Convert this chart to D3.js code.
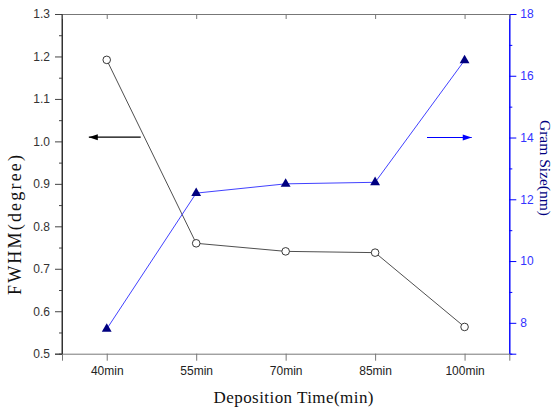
<!DOCTYPE html>
<html><head><meta charset="utf-8">
<script src="https://cdn.jsdelivr.net/npm/d3@7"></script>
<style>body{margin:0;background:#fff}svg{display:block}</style>
</head><body>
<script>
const categories = ["40min","55min","70min","85min","100min"];
const fwhm = [1.192, 0.760, 0.741, 0.738, 0.563];
const grainSize = [7.8, 12.2, 12.5, 12.55, 16.5];
const leftTicks = [0.5,0.6,0.7,0.8,0.9,1.0,1.1,1.2,1.3];
const rightTicks = [8,10,12,14,16,18];

const W=552,H=407;
const m={l:62,r:552-509.3,t:14,b:407-353.7};
const svg=d3.select("body").append("svg").attr("width",W).attr("height",H);
const x=d3.scalePoint().domain(categories).range([m.l,W-m.r]).padding(0.5);
const yL=d3.scaleLinear().domain([0.5,1.3]).range([H-m.b,m.t]);
const yR=d3.scaleLinear().domain([7,18]).range([H-m.b,m.t]);
const font="Liberation Sans, Arial, sans-serif";
const serif="Liberation Serif, Times New Roman, serif";

// minor ticks
const gL=svg.append("g").attr("transform",`translate(${m.l},0)`);
gL.call(d3.axisLeft(yL).tickValues(d3.range(0.55,1.3,0.1)).tickSize(3).tickFormat(""));
gL.append("g").call(d3.axisLeft(yL).tickValues(leftTicks).tickSize(7).tickPadding(5).tickFormat(d3.format(".1f")));
gL.selectAll("path").attr("stroke","#333");
gL.selectAll("line").attr("stroke","#444");
gL.selectAll("text").attr("font-family",font).attr("font-size",12).attr("fill","#333");

const gR=svg.append("g").attr("transform",`translate(${W-m.r},0)`);
gR.call(d3.axisRight(yR).tickValues([9,11,13,15,17]).tickSize(3).tickFormat(""));
gR.append("g").call(d3.axisRight(yR).tickValues(rightTicks).tickSize(7).tickPadding(4));
gR.selectAll("path").attr("stroke","#0000ff");
gR.selectAll("line").attr("stroke","#0000ff");
gR.selectAll("text").attr("font-family",font).attr("font-size",12).attr("fill","#3333ff");

const gB=svg.append("g").attr("transform",`translate(0,${H-m.b})`);
gB.call(d3.axisBottom(x).tickSize(7).tickPadding(6));
gB.selectAll("path").attr("stroke","#777");
gB.selectAll("line").attr("stroke","#777");
gB.selectAll("text").attr("font-family",font).attr("font-size",12).attr("fill","#222");

const gT=svg.append("g").attr("transform",`translate(0,${m.t})`);
gT.call(d3.axisTop(x).tickSize(-5).tickFormat(""));
gT.selectAll("path").attr("stroke","#777");
gT.selectAll("line").attr("stroke","#777");
svg.append("line").attr("x1",m.l).attr("x2",m.l).attr("y1",m.t).attr("y2",H-m.b).attr("stroke","#333");

// lines
svg.append("path").datum(fwhm).attr("fill","none").attr("stroke","#222").attr("stroke-width",0.8)
  .attr("d",d3.line().x((d,i)=>x(categories[i])).y(d=>yL(d)));
svg.append("path").datum(grainSize).attr("fill","none").attr("stroke","#2b2bff").attr("stroke-width",0.9)
  .attr("d",d3.line().x((d,i)=>x(categories[i])).y(d=>yR(d)));

svg.selectAll(".c").data(fwhm).join("circle").attr("cx",(d,i)=>x(categories[i])).attr("cy",d=>yL(d))
  .attr("r",3.8).attr("fill","#fff").attr("stroke","#222").attr("stroke-width",0.9);
svg.selectAll(".t").data(grainSize).join("path")
  .attr("transform",(d,i)=>`translate(${x(categories[i])},${yR(d)})`)
  .attr("d",d3.symbol(d3.symbolTriangle,42)).attr("fill","#000080");

// arrows
function arrow(x1,x2,y,color){
  svg.append("line").attr("x1",x1).attr("x2",x2).attr("y1",y).attr("y2",y).attr("stroke",color).attr("stroke-width",1.1);
  const dir=Math.sign(x2-x1);
  svg.append("path").attr("d",`M${x2},${y}L${x2-dir*9},${y-3}L${x2-dir*9},${y+3}Z`).attr("fill",color);
}
const sx=(i,f)=>x(categories[i])+f*x.step();
arrow(sx(0,0.38),sx(0,-0.2),yL(1.01),"#000");
arrow(sx(4,-0.42),sx(4,0.08),yR(14),"#0000ff");

// titles
svg.append("text").attr("x",293.5).attr("y",402.5).attr("text-anchor","middle")
  .attr("font-family",serif).attr("font-size",17).attr("fill","#111")
  .attr("textLength",160).attr("lengthAdjust","spacing").text("Deposition Time(min)");
svg.append("text").attr("transform",`translate(21,225) rotate(-90)`).attr("text-anchor","middle")
  .attr("font-family",serif).attr("font-size",18).attr("fill","#111")
  .attr("textLength",140).attr("lengthAdjust","spacing").text("FWHM(degree)");
svg.append("text").attr("transform",`translate(539.5,168) rotate(90)`).attr("text-anchor","middle")
  .attr("font-family",serif).attr("font-size",15.5).attr("fill","#000080").text("Gram Size(nm)");
</script>
</body></html>
